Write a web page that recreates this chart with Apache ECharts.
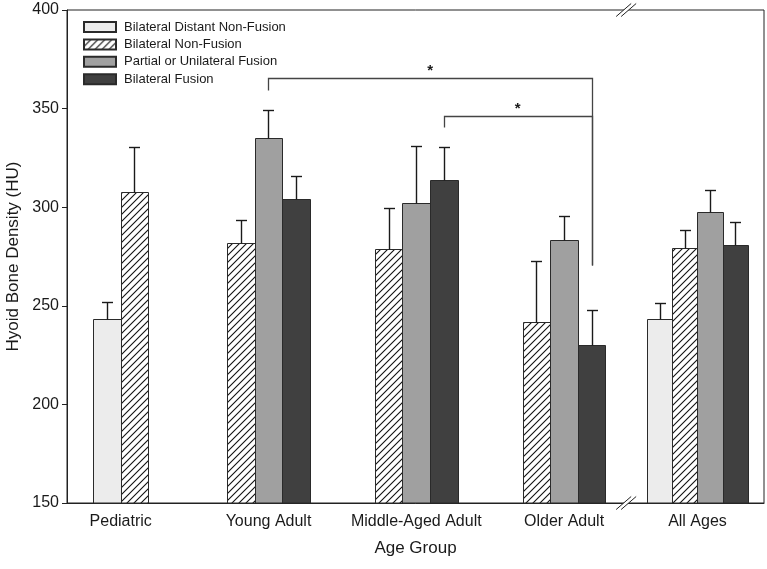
<!DOCTYPE html>
<html><head><meta charset="utf-8">
<script src="https://cdn.jsdelivr.net/npm/echarts@6/dist/echarts.min.js"></script>
<style>html,body{margin:0;padding:0;background:#fff}#c{width:767px;height:569px}</style>
</head><body><div id="c"></div>
<script>
// ---------- data ----------
const categories = ['Pediatric', 'Young Adult', 'Middle-Aged Adult', 'Older Adult', 'All Ages'];
const seriesNames = ['Bilateral Distant Non-Fusion', 'Bilateral Non-Fusion', 'Partial or Unilateral Fusion', 'Bilateral Fusion'];
const distantNonFusion   = [243.5, null, null, null, 243.5];
const distantNonFusionSE = [8.3, null, null, null, 8.1];
const nonFusion          = [307.5, 281.7, 278.8, 242.0, 279.2];
const nonFusionSE        = [23.0, 11.8, 20.6, 30.9, 9.2];
const partialFusion      = [null, 334.9, 302.0, 283.2, 297.7];
const partialFusionSE    = [null, 14.6, 29.0, 12.5, 11.0];
const bilateralFusion    = [null, 304.0, 313.8, 230.1, 280.6];
const bilateralFusionSE  = [null, 11.7, 16.9, 17.6, 12.1];
const yTicks = [150, 200, 250, 300, 350, 400];
// significance brackets: [category index, series index]
const bracketFrom = [[1, 2], [2, 3]];
const bracketTo = [[3, 3], [3, 3]];
const bracketTop = [365.4, 346.4];
const bracketLeftEnd = [359.4, 340.8];
const bracketRightEnd = [270.7, 270.7];
const bracketLabels = ['*', '*'];

// ---------- layout / style ----------
const values = [distantNonFusion, nonFusion, partialFusion, bilateralFusion];
const errors = [distantNonFusionSE, nonFusionSE, partialFusionSE, bilateralFusionSE];
const BAR_W = 0.1867, BREAK_AFTER = 3, BREAK_SHIFT = 0.0974, BREAK_SCALE = 0.917;
const groupCenter = i => i > BREAK_AFTER ? i - BREAK_SHIFT : i;
const barWidthU = i => BAR_W * (i > BREAK_AFTER ? BREAK_SCALE : 1);
const present = categories.map((_, i) => values.map((v, s) => v[i] == null ? -1 : s).filter(s => s >= 0));
function barSpan(cat, s) {
  const p = present[cat], k = p.indexOf(s), n = p.length, w = barWidthU(cat);
  const c = groupCenter(cat) + (k - (n - 1) / 2) * w;
  return [c - w / 2, c, c + w / 2];
}
function hatch() {
  const cv = document.createElement('canvas');
  cv.width = 7; cv.height = 7;
  const g = cv.getContext('2d');
  g.fillStyle = '#fff'; g.fillRect(0, 0, 7, 7);
  g.strokeStyle = '#111'; g.lineWidth = 1.1;
  g.beginPath();
  g.moveTo(-1, 8); g.lineTo(8, -1);
  g.moveTo(-1, 1); g.lineTo(1, -1);
  g.moveTo(6, 8); g.lineTo(8, 6);
  g.stroke();
  return { image: cv, repeat: 'repeat' };
}
const fills = ['#ececec', hatch(), '#a0a0a0', '#404040'];
const FONT = '"Liberation Sans", Arial, sans-serif';
const INK = '#1a1a1a';
const YMIN = yTicks[0], YMAX = yTicks[yTicks.length - 1];

function renderBar(params, api) {
  const s = params.seriesIndex;
  const cat = api.value(0), v = api.value(1), e = api.value(2);
  const [x0, c, x1] = barSpan(cat, s);
  const tl = api.coord([x0, v]), br = api.coord([x1, YMIN]);
  const base = api.coord([c, v]), top = api.coord([c, v + e]);
  const L = Math.round(tl[0]) + 0.5, R = Math.round(br[0]) + 0.5;
  const T = Math.round(tl[1]) + 0.5, B = br[1];
  const cx = Math.round(base[0]) + 0.5, ty = Math.round(top[1]) + 0.5;
  return {
    type: 'group',
    children: [
      { type: 'rect', shape: { x: L, y: T, width: R - L, height: B - T },
        style: { fill: fills[s], stroke: '#2a2a2a', lineWidth: 1 } },
      { type: 'line', shape: { x1: cx, y1: T, x2: cx, y2: ty }, style: { stroke: INK, lineWidth: 1.4 } },
      { type: 'line', shape: { x1: cx - 5.5, y1: ty, x2: cx + 5.5, y2: ty }, style: { stroke: INK, lineWidth: 1.4 } }
    ]
  };
}
function renderBracket(params, api) {
  const i = params.dataIndex;
  const fx = barSpan(bracketFrom[i][0], bracketFrom[i][1])[1];
  const tx = barSpan(bracketTo[i][0], bracketTo[i][1])[1];
  const a = api.coord([fx, bracketLeftEnd[i]]), b = api.coord([fx, bracketTop[i]]);
  const c = api.coord([tx, bracketTop[i]]), d = api.coord([tx, bracketRightEnd[i]]);
  const r = p => [Math.round(p[0]) + 0.5, Math.round(p[1]) + 0.5];
  return {
    type: 'group',
    children: [
      { type: 'polyline', shape: { points: [r(a), r(b), r(c), r(d)] },
        style: { stroke: '#444', lineWidth: 1.3, fill: null } },
      { type: 'text', x: (b[0] + c[0]) / 2, y: b[1] - 7,
        style: { text: bracketLabels[i], font: 'bold 15px ' + FONT, fill: INK, align: 'center', verticalAlign: 'middle' } }
    ]
  };
}

const barSeries = values.map((vals, s) => ({
  type: 'custom',
  name: seriesNames[s],
  renderItem: renderBar,
  itemStyle: { color: fills[s], borderColor: '#2a2a2a', borderWidth: 1 },
  encode: { x: 0, y: 1 },
  data: vals.map((v, i) => v == null ? null : [i, v, errors[s][i]]).filter(d => d),
  z: 2
}));

const chart = echarts.init(document.getElementById('c'), null, { renderer: 'canvas' });
chart.setOption({
  animation: false,
  backgroundColor: '#fff',
  textStyle: { fontFamily: FONT },
  grid: { left: 67, right: 3, top: 10, bottom: 66, outerBoundsMode: 'none', containLabel: false,
          show: true, borderColor: '#222', borderWidth: 1, backgroundColor: 'transparent' },
  legend: {
    orient: 'vertical', left: 83, top: 20, padding: 0,
    itemWidth: 32, itemHeight: 10, itemGap: 3.4, icon: 'rect',
    data: seriesNames,
    textStyle: { fontSize: 13, color: INK, fontFamily: FONT, lineHeight: 14, padding: [0, 0, 0, 3] },
    selectedMode: false
  },
  xAxis: {
    type: 'value', min: -0.3633, max: 4.3527,
    name: 'Age Group', nameLocation: 'middle', nameGap: 37,
    nameTextStyle: { fontSize: 17, color: INK, fontFamily: FONT },
    axisLine: { show: true, onZero: false, lineStyle: { color: '#222', width: 1 } },
    axisTick: { show: false },
    splitLine: { show: false },
    axisLabel: {
      customValues: categories.map((_, i) => groupCenter(i)),
      formatter: v => {
        let best = 0;
        categories.forEach((_, i) => { if (Math.abs(groupCenter(i) - v) < Math.abs(groupCenter(best) - v)) best = i; });
        return categories[best];
      },
      fontSize: 16, color: INK, margin: 11, fontFamily: FONT
    }
  },
  yAxis: {
    type: 'value', min: YMIN, max: YMAX, interval: 50,
    name: 'Hyoid Bone Density (HU)', nameLocation: 'middle', nameGap: 44,
    nameTextStyle: { fontSize: 17, color: INK, fontFamily: FONT },
    axisLine: { show: true, onZero: false, lineStyle: { color: '#222', width: 1 } },
    axisTick: { show: true, length: 5, lineStyle: { color: '#222' } },
    splitLine: { show: false },
    axisLabel: { fontSize: 16, color: INK, margin: 8, fontFamily: FONT }
  },
  series: barSeries.concat([{
    type: 'custom',
    name: 'significance',
    renderItem: renderBracket,
    encode: { x: 0, y: 1 },
    data: bracketTop.map((t, i) => [i, t]),
    z: 3, silent: true
  }])
});

// axis break marks (//) on bottom and top frame lines
const oaRight = barSpan(BREAK_AFTER, present[BREAK_AFTER][present[BREAK_AFTER].length - 1])[2];
const aaLeft = barSpan(BREAK_AFTER + 1, present[BREAK_AFTER + 1][0])[0];
const breakU = (oaRight + aaLeft) / 2;
const gfx = [];
[YMIN, YMAX].forEach(yv => {
  const p = chart.convertToPixel({ xAxisIndex: 0, yAxisIndex: 0 }, [breakU, yv]);
  const cx = p[0], cy = p[1];
  gfx.push({ type: 'polygon', shape: { points: [[cx - 10, cy + 6.5], [cx + 5, cy - 6.5], [cx + 10, cy - 6.5], [cx - 5, cy + 6.5]] },
    style: { fill: '#fff' }, z: 100 });
  gfx.push({ type: 'line', shape: { x1: cx - 10, y1: cy + 6.5, x2: cx + 5, y2: cy - 6.5 }, style: { stroke: '#222', lineWidth: 1 }, z: 101 });
  gfx.push({ type: 'line', shape: { x1: cx - 5, y1: cy + 6.5, x2: cx + 10, y2: cy - 6.5 }, style: { stroke: '#222', lineWidth: 1 }, z: 101 });
});
chart.setOption({ graphic: gfx });
</script>
</body></html>
